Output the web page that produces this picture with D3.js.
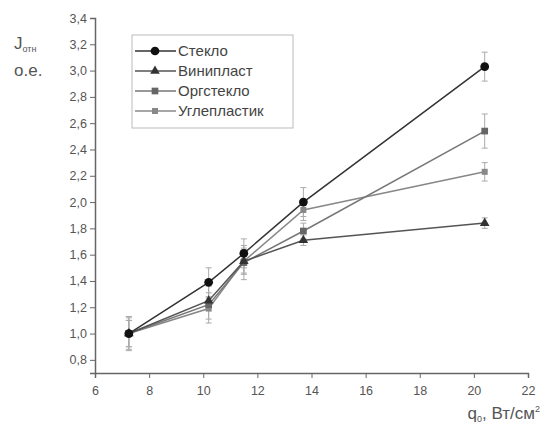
<!DOCTYPE html>
<html>
<head>
<meta charset="utf-8">
<script src="https://cdn.jsdelivr.net/npm/d3@7"></script>
<style>
  body { margin: 0; background: #fff; }
  svg { font-family: "Liberation Sans", Arial, sans-serif; }
</style>
</head>
<body>
<div id="chart"></div>
<script>
const xValues = [7.25, 10.2, 11.5, 13.7, 20.4];
const seriesNames = ['Стекло', 'Винипласт', 'Оргстекло', 'Углепластик'];
const steklo = [1.0, 1.39, 1.61, 2.0, 3.03];
const viniplast = [1.0, 1.25, 1.55, 1.71, 1.84];
const orgsteklo = [1.0, 1.22, 1.54, 1.78, 2.54];
const ugleplastik = [1.0, 1.19, 1.55, 1.94, 2.23];
const stekloErr = [0.12, 0.11, 0.11, 0.11, 0.11];
const viniplastErr = [0.1, 0.06, 0.1, 0.04, 0.04];
const orgstekloErr = [0.13, 0.14, 0.13, 0.06, 0.13];
const ugleplastikErr = [0.1, 0.08, 0.09, 0.08, 0.07];
const xTicks = [6, 8, 10, 12, 14, 16, 18, 20, 22];
const yTicks = [0.8, 1.0, 1.2, 1.4, 1.6, 1.8, 2.0, 2.2, 2.4, 2.6, 2.8, 3.0, 3.2, 3.4];

const W = 541, H = 423;
const margin = {top: 18, right: 13, bottom: 50, left: 95};

const svg = d3.select('#chart').append('svg')
    .attr('width', W)
    .attr('height', H);

const x = d3.scaleLinear().domain([6, 22]).range([margin.left, W - margin.right]);
const y = d3.scaleLinear().domain([0.7, 3.4]).range([H - margin.bottom, margin.top]);

const comma = (v) => d3.format('.1f')(v).replace('.', ',');

// axes
const axisColor = '#666';
const gx = svg.append('g').attr('transform', 'translate(0,' + y(0.7) + ')');
gx.call(d3.axisBottom(x).tickValues(d3.range(6, 22.01, 1)).tickSize(3).tickFormat(''));
gx.call(d3.axisBottom(x).tickValues(xTicks).tickSize(5).tickFormat(d3.format('d')));
gx.selectAll('.domain').attr('stroke', axisColor).attr('stroke-width', 1.5);
gx.selectAll('line').attr('stroke', axisColor);
gx.selectAll('text').attr('fill', '#555').attr('font-size', 12.5).attr('dy', '1.1em');

const gy = svg.append('g').attr('transform', 'translate(' + x(6) + ',0)');
gy.call(d3.axisLeft(y).tickValues(d3.range(0.7, 3.41, 0.1)).tickSize(3).tickFormat(''));
gy.call(d3.axisLeft(y).tickValues(yTicks).tickSize(5).tickFormat(comma));
gy.selectAll('.domain').attr('stroke', axisColor).attr('stroke-width', 1.5);
gy.selectAll('line').attr('stroke', axisColor);
gy.selectAll('text').attr('fill', '#555').attr('font-size', 12.5);

// axis titles
const yl = svg.append('text').attr('x', 14).attr('y', 49).attr('fill', '#555').attr('font-size', 17);
yl.append('tspan').text('J');
yl.append('tspan').attr('font-size', 9).attr('dy', 3).text('отн');
svg.append('text').attr('x', 14).attr('y', 76).attr('fill', '#555').attr('font-size', 17).text('о.е.');

const xl = svg.append('text').attr('x', 540).attr('y', 419).attr('text-anchor', 'end')
    .attr('fill', '#555').attr('font-size', 17);
xl.append('tspan').text('q');
xl.append('tspan').attr('font-size', 9).attr('dy', 3).text('0');
xl.append('tspan').attr('dy', -3).text(', Вт/см');
xl.append('tspan').attr('font-size', 9).attr('dy', -7).text('2');

const series = [
  {name: seriesNames[0], values: steklo, err: stekloErr, line: '#333', fill: '#111', shape: d3.symbolCircle, size: 60},
  {name: seriesNames[1], values: viniplast, err: viniplastErr, line: '#555', fill: '#333', shape: d3.symbolTriangle, size: 40},
  {name: seriesNames[2], values: orgsteklo, err: orgstekloErr, line: '#777', fill: '#666', shape: d3.symbolSquare, size: 45},
  {name: seriesNames[3], values: ugleplastik, err: ugleplastikErr, line: '#888', fill: '#888', shape: d3.symbolSquare, size: 36},
];

const line = d3.line().x((d, i) => x(xValues[i])).y((d) => y(d));

// error bars
series.slice().reverse().forEach((s) => {
  const g = svg.append('g');
  s.values.forEach((v, i) => {
    const cx = x(xValues[i]);
    const lo = y(v - s.err[i]);
    const hi = y(v + s.err[i]);
    g.append('line').attr('x1', cx).attr('x2', cx).attr('y1', lo).attr('y2', hi)
        .attr('stroke', '#aaa').attr('stroke-width', 1);
    [lo, hi].forEach((yy) => {
      g.append('line').attr('x1', cx - 3).attr('x2', cx + 3).attr('y1', yy).attr('y2', yy)
          .attr('stroke', '#aaa').attr('stroke-width', 1);
    });
  });
});

// lines and markers
series.slice().reverse().forEach((s) => {
  svg.append('path').datum(s.values)
      .attr('d', line)
      .attr('fill', 'none')
      .attr('stroke', s.line)
      .attr('stroke-width', 1.5);
  svg.selectAll(null).data(s.values).enter().append('path')
      .attr('d', d3.symbol().type(s.shape).size(s.size))
      .attr('transform', (d, i) => 'translate(' + x(xValues[i]) + ',' + y(d) + ')')
      .attr('fill', s.fill);
});

// legend
const lg = svg.append('g').attr('transform', 'translate(132,35)');
lg.append('rect').attr('width', 161).attr('height', 93)
    .attr('fill', '#fff').attr('stroke', '#bbb').attr('stroke-width', 1);
series.forEach((s, i) => {
  const yy = 16 + i * 20;
  lg.append('line').attr('x1', 3).attr('x2', 44).attr('y1', yy).attr('y2', yy)
      .attr('stroke', s.line).attr('stroke-width', 1.5);
  lg.append('path').attr('d', d3.symbol().type(s.shape).size(s.size))
      .attr('transform', 'translate(23,' + yy + ')').attr('fill', s.fill);
  lg.append('text').attr('x', 46).attr('y', yy).attr('dy', '0.35em')
      .attr('font-size', 15).attr('fill', '#444').text(s.name);
});
</script>
</body>
</html>
